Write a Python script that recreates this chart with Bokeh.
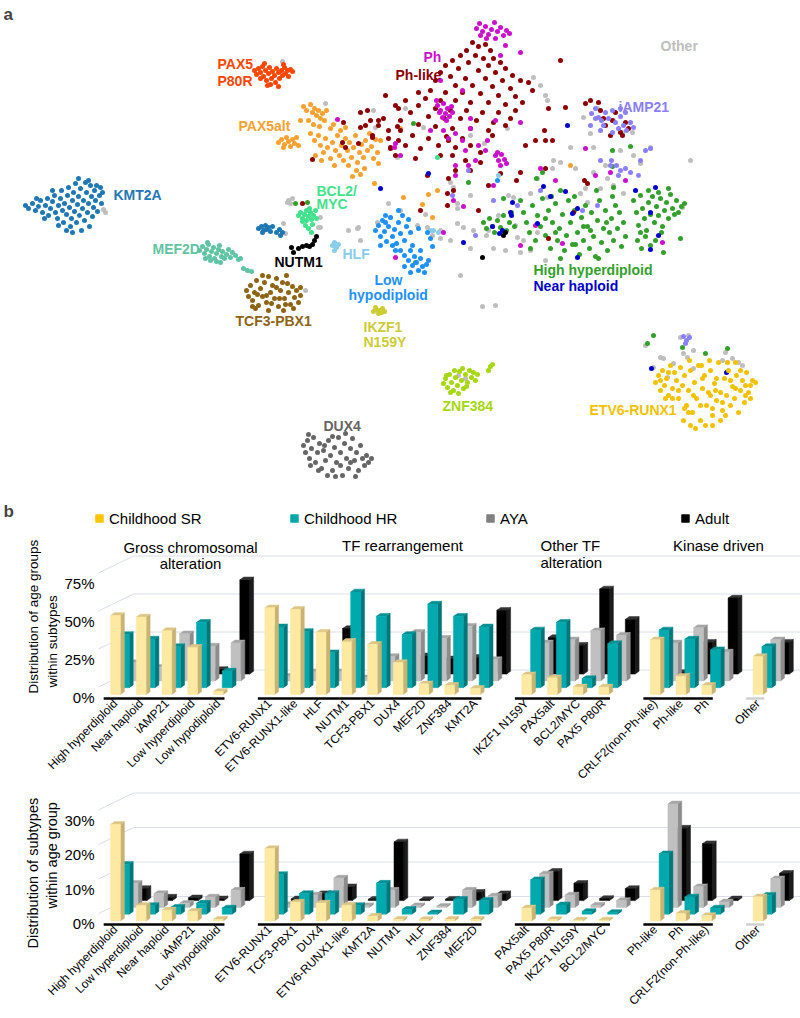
import numpy as np
from bokeh.plotting import figure
from bokeh.models import Range1d, Label, FixedTicker, Legend, LegendItem, Title
from bokeh.embed import file_html
from bokeh.resources import INLINE

FONT = "Liberation Sans"

# ---------------- panel a : t-SNE map (map units) ----------------
other_pts = [(282,61),(325,103),(373,110),(375,127),(288,200),(290,203),(292,198),(287,202),(388,203),(377,222),(357,228),(348,230),(283,223),(320,217),(320,227),(318,227),(285,233),(305,290),(358,227),(390,217),(427,227),(432,235),(457,203),(457,223),(463,227),(440,238),(453,187),(460,275),(495,305),(513,197),(508,195),(530,250),(105,212),(103,209),(405,108),(397,157),(423,127),(450,182),(457,208),(440,230),(450,240),(507,128),(570,147),(553,160),(552,168),(537,178),(530,193),(547,197),(580,193),(585,188),(587,202),(600,188),(613,185),(623,193),(640,163),(650,147),(633,155),(593,147),(590,133),(583,117),(597,108),(613,120),(622,132),(632,132),(682,207),(537,232),(517,237),(488,230),(473,230),(470,248),(533,77),(540,85),(545,95),(547,100),(482,306),(680,337),(688,335),(660,357),(663,358),(683,353),(687,357),(693,350),(722,360),(727,362),(732,358),(738,362),(742,365),(725,352),(673,363),(693,368),(667,377),(653,367),(458,375),(465,378),(645,345),(505,250),(520,252),(493,248),(523,240),(498,215),(486,235),(515,225),(470,195),(545,260),(560,162),(575,168),(593,172),(607,178),(605,165),(620,150),(690,160),(400,210),(425,214),(417,225),(360,240),(484,143),(470,135)]
kmt2a_pts = [(25,205),(28,208),(32,203),(35,210),(38,206),(40,200),(42,212),(45,205),(47,198),(48,215),(50,208),(52,201),(54,195),(55,212),(57,218),(58,205),(60,198),(61,190),(62,210),(63,222),(64,203),(66,214),(67,195),(68,187),(69,207),(70,226),(71,218),(72,200),(73,192),(74,211),(75,183),(76,222),(77,204),(78,196),(79,215),(80,188),(81,230),(82,208),(83,200),(84,220),(85,182),(86,192),(87,212),(88,203),(89,226),(90,185),(91,196),(92,216),(93,207),(94,190),(95,200),(96,185),(97,211),(99,195),(100,187),(101,203),(102,192),(66,230),(58,225),(44,218),(36,198),(52,190),(78,178),(88,180),(72,232),(258,228),(261,226),(263,230),(265,225),(266,229),(268,227),(262,232),(270,231),(276,232),(279,229),(282,232),(280,235),(272,226)]
p80r_pts = [(254,70),(256,74),(258,68),(260,72),(262,66),(263,76),(265,70),(266,80),(268,73),(269,67),(271,78),(272,71),(274,75),(275,82),(276,68),(278,72),(279,78),(281,70),(282,75),(284,67),(285,73),(287,70),(288,76),(290,69),(292,71),(264,63),(270,84),(278,86),(283,64),(260,78),(267,85)]
pax5alt_pts = [(303,106),(306,110),(310,104),(312,112),(314,108),(316,115),(318,110),(320,118),(322,113),(324,120),(313,124),(308,120),(319,126),(326,110),(300,120),(278,142),(281,139),(284,144),(286,137),(288,141),(290,146),(292,139),(294,143),(296,137),(298,145),(283,147),(310,133),(314,140),(318,135),(320,145),(323,152),(325,138),(327,147),(330,158),(332,142),(335,150),(337,135),(339,155),(341,145),(343,160),(345,138),(347,150),(349,142),(351,157),(353,147),(355,135),(357,162),(359,152),(361,144),(363,157),(365,140),(367,150),(369,133),(371,146),(373,158),(375,139),(377,152),(340,130),(330,128),(315,155),(321,160),(334,165),(348,165),(356,170),(360,174),(352,176),(364,168),(378,163),(374,183),(333,124),(345,127),(380,140),(400,128),(403,197),(422,204),(428,194),(437,190),(432,217),(570,165)]
phlike_pts = [(472,42),(478,46),(485,44),(490,50),(466,50),(460,55),(475,55),(483,58),(493,58),(500,62),(452,60),(468,62),(488,65),(505,68),(445,65),(458,68),(478,70),(495,72),(512,75),(440,72),(450,76),(465,78),(485,78),(502,80),(520,80),(435,80),(455,85),(472,85),(492,86),(510,88),(528,82),(430,90),(445,92),(462,92),(480,93),(498,95),(515,96),(532,90),(425,98),(440,100),(455,100),(470,102),(488,102),(505,104),(522,102),(418,105),(435,108),(450,110),(466,110),(482,112),(498,112),(515,110),(548,108),(410,112),(428,116),(444,118),(460,118),(476,120),(493,122),(510,118),(400,120),(418,124),(435,126),(452,128),(470,128),(488,130),(400,130),(412,135),(428,138),(446,136),(462,138),(544,130),(405,145),(420,148),(438,145),(455,147),(470,145),(545,140),(390,148),(395,155),(415,158),(452,155),(465,160),(480,152),(525,145),(535,140),(388,130),(370,120),(360,112),(365,125),(372,135),(378,125),(395,105),(480,162),(470,170),(520,172),(545,168),(516,180),(500,173),(488,185),(447,193),(453,190),(420,210),(447,205),(478,210),(492,135),(505,125),(418,92),(448,140),(398,140),(427,175),(448,178),(455,170),(405,100),(385,95),(440,155),(560,60),(565,107),(552,140),(585,103),(590,100),(598,102),(600,110),(605,125),(612,120),(610,135),(620,132),(628,128),(625,122),(603,118),(615,112),(622,135),(343,122),(360,127),(367,110),(378,120),(383,118),(398,108),(397,126),(388,138),(390,147),(372,137),(358,143),(345,147),(342,142),(312,159),(302,203),(584,180),(587,183),(573,212),(548,238)]
ph_pts = [(476,28),(479,23),(482,31),(485,26),(488,34),(491,29),(494,22),(497,31),(500,27),(503,35),(506,30),(509,33),(486,38),(480,35),(495,38),(437,105),(440,110),(443,103),(445,113),(447,108),(449,116),(451,106),(442,117),(439,112),(446,120),(452,112),(436,100),(495,155),(498,160),(501,154),(504,159),(506,163),(500,165),(497,152),(430,130),(443,130),(448,138),(455,133),(462,140),(470,128),(465,150),(478,145),(485,150),(475,160),(468,165),(455,165),(487,140),(493,185),(455,175),(453,200),(470,118),(520,122),(540,168),(555,180),(585,148),(595,175),(610,172),(625,180),(535,225),(400,155),(395,143),(337,119),(394,147),(520,245),(395,257),(462,90),(505,45),(500,55),(440,80),(520,52),(495,120),(443,232),(463,206),(562,243),(662,242)]
iamp21_pts = [(591,113),(595,108),(598,117),(601,120),(605,112),(603,125),(608,118),(612,110),(615,122),(618,128),(620,116),(623,125),(626,130),(630,122),(633,127),(612,132),(590,125),(600,130),(595,118),(620,108),(625,112),(616,165),(620,170),(625,168),(618,175),(630,172),(638,175),(640,160),(645,150),(650,148),(611,160),(610,165),(540,190),(493,200),(468,170),(452,195),(475,235),(517,205),(683,336),(686,340),(689,337),(685,343),(600,160),(582,210),(597,205)]
hyper_pts = [(483,222),(486,228),(489,218),(492,226),(494,232),(497,220),(500,227),(503,215),(506,230),(509,222),(511,212),(514,226),(520,200),(523,212),(526,222),(529,232),(532,205),(535,240),(537,215),(540,226),(542,198),(545,235),(548,210),(550,248),(552,222),(555,203),(557,240),(559,228),(562,214),(564,250),(566,235),(568,200),(570,222),(572,244),(574,210),(577,232),(579,254),(581,217),(583,240),(585,205),(587,226),(589,248),(591,212),(593,236),(595,256),(597,220),(599,200),(601,242),(603,228),(605,210),(607,250),(609,232),(611,218),(613,240),(615,205),(617,228),(619,212),(621,246),(623,222),(625,236),(612,196),(598,258),(560,258),(575,244),(590,230),(606,222),(545,218),(530,248),(555,232),(583,226),(633,200),(636,212),(638,225),(640,195),(642,208),(644,218),(646,230),(648,202),(650,214),(652,196),(654,222),(656,206),(658,215),(660,198),(662,226),(664,210),(666,202),(668,218),(670,194),(672,208),(674,214),(676,200),(678,212),(681,206),(684,203),(637,240),(641,248),(645,236),(650,245),(655,240),(661,232),(663,252),(680,238),(648,190),(658,192),(668,188),(640,232),(612,150),(630,146),(612,166),(503,198),(551,196),(560,190),(574,196),(613,187),(596,190),(536,178),(295,203),(307,202),(415,262),(653,335),(647,343),(682,347),(705,353),(727,348),(413,123),(468,182),(542,172)]
nearhap_pts = [(655,187),(565,191),(550,196),(512,202),(510,212),(511,215),(577,208),(572,213),(537,223),(502,230),(499,233),(492,226),(650,212),(658,235),(650,249),(577,257),(567,125),(428,173),(543,186),(635,190),(463,242),(651,368),(726,372),(380,188)]
bcl2_pts = [(298,215),(300,212),(302,218),(304,214),(306,210),(306,220),(308,216),(310,212),(311,219),(313,215),(315,210),(316,218),(305,225),(308,228),(311,232),(312,224),(302,221),(309,208),(437,157)]
nutm1_pts = [(293,252),(298,248),(302,246),(306,245),(309,246),(312,244),(314,240),(316,236),(291,247),(505,232),(482,257),(503,235)]
mef2d_pts = [(199,250),(202,246),(204,253),(206,249),(208,244),(209,256),(211,251),(213,247),(214,258),(216,253),(218,249),(219,245),(221,256),(222,251),(224,258),(226,254),(228,249),(230,257),(232,252),(235,255),(238,259),(240,258),(210,260),(216,261),(205,258),(243,268),(247,270),(251,271),(207,242),(220,262)]
tcf3_pts = [(246,290),(248,296),(250,285),(252,300),(254,292),(256,280),(258,305),(260,288),(262,296),(264,282),(266,302),(268,276),(270,292),(272,285),(274,298),(276,278),(278,306),(280,290),(282,282),(284,298),(286,275),(288,292),(290,304),(292,286),(294,297),(296,290),(298,302),(300,295),(262,275),(255,308),(268,310),(283,310),(293,308),(276,287),(266,295),(287,283),(279,298),(257,294),(271,303),(285,304),(300,287),(252,306)]
hlf_pts = [(332,245),(334,242),(336,247),(334,250),(338,244),(335,246),(430,230),(498,175),(433,230),(438,232)]
lowhypo_pts = [(375,230),(378,225),(380,236),(382,220),(384,231),(386,241),(388,226),(390,217),(392,236),(394,229),(396,243),(398,222),(400,233),(402,215),(404,240),(406,226),(408,219),(410,232),(412,245),(385,215),(395,250),(400,250),(404,255),(408,260),(410,250),(412,265),(414,256),(416,262),(418,270),(420,258),(422,266),(424,272),(426,264),(410,272),(404,266),(420,250),(428,260),(432,246),(430,238),(427,232),(380,245),(392,245),(418,228),(398,210),(385,222),(497,180)]
ikzf1_pts = [(373,311),(376,309),(379,310),(382,308),(384,311),(378,313),(375,307),(381,312)]
znf384_pts = [(443,383),(445,378),(447,387),(449,374),(451,382),(453,390),(455,377),(457,385),(459,371),(461,380),(463,388),(465,374),(467,382),(469,370),(471,377),(473,372),(475,380),(477,374),(450,392),(458,393),(446,375),(462,368),(466,386),(454,370),(488,370),(490,366),(492,364)]
dux4_pts = [(303,445),(305,452),(307,440),(309,458),(311,448),(313,437),(315,462),(317,452),(319,443),(321,468),(323,450),(325,460),(328,440),(330,455),(332,470),(334,447),(336,462),(338,437),(340,452),(342,475),(344,443),(346,458),(348,468),(350,448),(352,438),(354,460),(356,452),(358,470),(360,445),(362,458),(364,465),(366,455),(368,462),(371,458),(327,475),(335,476),(318,470),(355,476),(345,433),(332,436),(310,465),(308,434),(350,462),(324,445),(340,465)]
etv6_pts = [(655,382),(658,375),(660,390),(662,370),(664,385),(666,378),(668,395),(670,365),(672,388),(674,372),(676,380),(678,398),(680,367),(682,385),(684,375),(686,405),(688,390),(690,370),(692,412),(694,382),(696,398),(698,365),(700,420),(702,388),(704,375),(706,405),(708,392),(710,370),(712,415),(714,383),(716,400),(718,362),(720,392),(722,410),(724,378),(726,395),(728,370),(730,405),(732,386),(734,398),(736,375),(738,412),(740,390),(742,380),(744,402),(746,372),(748,392),(750,385),(752,380),(755,382),(683,420),(690,425),(695,428),(705,425),(712,425),(720,420),(700,405),(665,398),(672,398),(684,408),(688,412),(710,395),(725,415),(735,388),(745,385),(740,370),(730,380),(715,390),(702,378),(693,395),(678,390),(668,372),(660,380),(716,378),(727,362),(735,362),(745,395),(750,398),(701,365),(709,360),(689,360),(712,408),(722,402)]

subtype_layers = [
    ("Other", "#BEBEBE", other_pts),
    ("KMT2A", "#1F77B4", kmt2a_pts),
    ("PAX5 P80R", "#FF4500", p80r_pts),
    ("PAX5alt", "#F9A12E", pax5alt_pts),
    ("High hyperdiploid", "#33A02C", hyper_pts),
    ("Ph-like", "#8B0000", phlike_pts),
    ("Ph", "#CC11CC", ph_pts),
    ("iAMP21", "#8A7FFF", iamp21_pts),
    ("Near haploid", "#0000CD", nearhap_pts),
    ("BCL2/MYC", "#40E28C", bcl2_pts),
    ("NUTM1", "#000000", nutm1_pts),
    ("MEF2D", "#60C4A2", mef2d_pts),
    ("TCF3-PBX1", "#8E6414", tcf3_pts),
    ("HLF", "#87CEEB", hlf_pts),
    ("Low hypodiploid", "#1E90FF", lowhypo_pts),
    ("IKZF1 N159Y", "#CCCC33", ikzf1_pts),
    ("ZNF384", "#A6D80F", znf384_pts),
    ("DUX4", "#666666", dux4_pts),
    ("ETV6-RUNX1", "#F2C200", etv6_pts),
]

map_labels = [  # text, left x, centre y, colour
    ("PAX5", 217, 63, "#FF4500"), ("P80R", 217, 80, "#FF4500"),
    ("PAX5alt", 238, 125, "#F9A12E"), ("KMT2A", 113, 194, "#1F77B4"),
    ("BCL2/", 316, 190, "#40E28C"), ("MYC", 316, 203, "#40E28C"),
    ("MEF2D", 152, 248, "#60C4A2"), ("NUTM1", 274, 261, "#000000"),
    ("HLF", 342, 253, "#87CEEB"), ("Low", 374, 279, "#1E90FF"),
    ("hypodiploid", 348, 294, "#1E90FF"), ("TCF3-PBX1", 235, 320, "#8E6414"),
    ("IKZF1", 363, 326, "#CCCC33"), ("N159Y", 363, 341, "#CCCC33"),
    ("ZNF384", 442, 405, "#A6D80F"), ("DUX4", 323, 425, "#666666"),
    ("ETV6-RUNX1", 589, 409, "#F2C200"), ("Ph", 423, 56, "#CC11CC"),
    ("Ph-like", 395, 74, "#8B0000"), ("Other", 660, 45, "#BEBEBE"),
    ("iAMP21", 618, 106, "#8A7FFF"), ("High hyperdiploid", 533, 269, "#33A02C"),
    ("Near haploid", 533, 285, "#0000CD"),
]

# ---------------- panel b : bar charts (%) ----------------
series_names = ["Childhood SR", "Childhood HR", "AYA", "Adult"]

top_groups = [
    ["High hyperdiploid", "Near haploid", "iAMP21", "Low hyperdiploid", "Low hypodiploid"],
    ["ETV6-RUNX1", "ETV6-RUNX1-like", "HLF", "NUTM1", "TCF3-PBX1", "DUX4", "MEF2D", "ZNF384", "KMT2A"],
    ["IKZF1 N159Y", "PAX5alt", "BCL2/MYC", "PAX5 P80R"],
    ["CRLF2(non-Ph-like)", "Ph-like", "Ph"],
    ["Other"],
]
top_sr    = [52, 51, 42, 31, 2,  57, 56, 41, 35, 33, 21, 7, 6, 4,  13, 11, 5, 5,  36, 12, 6,  25]
top_hr    = [35, 32, 27, 43, 11, 40, 37, 23, 63, 47, 35, 55, 47, 40, 38, 43, 6, 29, 38, 32, 25, 27]
top_aya   = [12, 9, 31, 23, 25,  3, 6, 6, 2, 16, 32, 28, 36, 14,  25, 27, 33, 30, 25, 35, 19, 27]
top_adult = [1, 8, 0, 3, 62,     0, 1, 30, 0, 4, 12, 10, 11, 42,  24, 19, 56, 36, 1, 21, 50, 21]

bot_groups = [
    ["High hyperdiploid", "Low hyperdiploid", "Near haploid", "iAMP21", "Low hypodiploid"],
    ["ETV6-RUNX1", "TCF3-PBX1", "DUX4", "ETV6-RUNX1-like", "KMT2A", "NUTM1", "HLF", "ZNF384", "MEF2D"],
    ["PAX5alt", "PAX5 P80R", "IKZF1 N159Y", "BCL2/MYC"],
    ["Ph-like", "Ph", "CRLF2(non-Ph-like)"],
    ["Other"],
]
bot_sr    = [28, 4.5, 3.2, 2.8, 0.5,  21, 5.5, 5.2, 4.6, 1.4, 0.5, 0.4, 0.5, 0.5,  3.8, 0.4, 0.3, 0.3,  9, 2.2, 1.6,  7]
bot_hr    = [14.5, 2.5, 2, 3.2, 1.8,  11.5, 6, 6, 2.5, 9, 1.4, 0.4, 4.3, 4,  10, 2.7, 0.8, 0.5,  17.5, 5, 1.8,  5.5]
bot_aya   = [7, 4, 1.2, 3, 5,  0.8, 3.6, 8.5, 0.5, 5, 0.5, 0.3, 5, 3.3,  9.7, 3.6, 0.6, 2,  30, 6, 1.6,  8.3]
bot_adult = [3.5, 1, 0.8, 0.5, 13.5,  0.5, 2, 4, 0.4, 17, 0.3, 0.4, 2.4, 2,  8.5, 5, 0.6, 3.5,  21, 16.5, 0.5,  7.9]

# ---------------- styling ----------------
FRONT = ["#FDE9A1", "#00A9AD", "#C0C0C0", "#000000"]
SIDE = ["#C8B373", "#00777B", "#8C8C8C", "#1C1C1C"]
TOPC = ["#DCC585", "#008F93", "#A6A6A6", "#333333"]
LEGEND_COL = ["#FFC400", "#00A6A8", "#808080", "#000000"]
PITCH = 25.7          # px per slot
BAR_W = 9.8           # px
ROW_DX, ROW_DY = 8.8, 6.8
DEP_DX, DEP_DY = 4.0, 2.8
FRAME_LEFT = 94
MAP_H = 532
TOP_H = 790 - MAP_H


def map_figure():
    p = figure(width=800, height=MAP_H, x_range=Range1d(0, 800), y_range=Range1d(MAP_H, 0),
               output_backend="svg", toolbar_location=None, min_border=0,
               x_axis_location=None, y_axis_location=None)
    p.grid.visible = False
    p.outline_line_color = None
    for name, col, pts in subtype_layers:
        a = np.array(pts, dtype=float)
        p.scatter(a[:, 0], a[:, 1], size=5, fill_color=col, line_color=None)
    for txt, x, y, col in map_labels:
        p.add_layout(Label(x=x, y=y, text=txt, text_color=col, text_font=FONT,
                           text_font_size="14px", text_font_style="bold",
                           text_baseline="middle", text_align="left"))
    p.add_layout(Label(x=3, y=14, text="a", text_font=FONT, text_font_size="17px",
                       text_font_style="bold", text_baseline="alphabetic"))
    p.add_layout(Label(x=3, y=511, text="b", text_font=FONT, text_font_size="17px",
                       text_font_style="bold", text_baseline="alphabetic"))
    # legend of panel b (age groups): swatches at layout positions + legend entries
    swatch_left = [95, 290, 486, 681]
    leg_y = 518
    for name, col, sl in zip(series_names, LEGEND_COL, swatch_left):
        r = p.scatter(x=[sl + 4], y=[leg_y], size=8, marker="square",
                      fill_color=col, line_color=None)
        leg = Legend(items=[LegendItem(label=name, renderers=[r])],
                     location=(sl - 6, MAP_H - (leg_y + 10)),
                     orientation="horizontal",
                     glyph_width=20, glyph_height=20, label_height=20, label_standoff=0,
                     padding=0, margin=0, border_line_color=None, background_fill_alpha=0,
                     label_text_font=FONT, label_text_font_size="15px",
                     label_text_color="#000000")
        p.add_layout(leg)
    return p


def bar_figure(groups, vals, top_page, height, bottom_border, zero_page, ppp, base0,
               yticks, titles, title_size, extra):
    slots, names, ranges = [], [], []
    s = 0
    for g in groups:
        st = s
        for n in g:
            slots.append(s); names.append(n); s += 1
        ranges.append((st, s - 1))
        s += 1
    slots = np.array(slots, dtype=float)

    def dx(px):
        return px / PITCH

    def dy(px):
        return px / ppp

    def X(page_x):
        return (page_x - 115) / PITCH

    def Y(page_y):
        return (zero_page - page_y) / ppp

    frame_bottom = top_page + height - bottom_border
    p = figure(width=800, height=height, output_backend="svg", toolbar_location=None,
               x_range=Range1d(X(FRAME_LEFT), X(800)),
               y_range=Range1d(Y(frame_bottom), Y(top_page)),
               min_border_left=FRAME_LEFT, min_border_right=0, min_border_top=0,
               min_border_bottom=bottom_border)
    p.grid.visible = False
    p.outline_line_color = None

    # back wall grid
    wall = base0 + 3.6 * ROW_DY
    gx0, gx1 = X(98), X(133)
    for v in yticks:
        p.line([gx1, X(800)], [v + dy(wall), v + dy(wall)], line_color="#D9DEEA", line_width=1)
        p.line([gx0, gx1], [v + dy(wall - 17), v + dy(wall)], line_color="#D9DEEA", line_width=1)

    # 3-D bars, back row first
    for k in (3, 2, 1, 0):
        v = np.array(vals[k], dtype=float)
        left = slots - dx(BAR_W / 2) + dx(k * ROW_DX)
        right = left + dx(BAR_W)
        bot = np.full_like(v, dy(base0 + k * ROW_DY))
        top = bot + v
        ddx, ddy = dx(DEP_DX), dy(DEP_DY)
        side_x = [[r, r + ddx, r + ddx, r] for r in right]
        side_y = [[b, b + ddy, t + ddy, t] for b, t in zip(bot, top)]
        top_x = [[l, r, r + ddx, l + ddx] for l, r in zip(left, right)]
        top_y = [[t, t, t + ddy, t + ddy] for t in top]
        p.patches(side_x, side_y, fill_color=SIDE[k], line_color=SIDE[k], line_width=0.5)
        p.patches(top_x, top_y, fill_color=TOPC[k], line_color=TOPC[k], line_width=0.5)
        p.quad(left=left, right=right, bottom=bot, top=top, fill_color=FRONT[k],
               line_color=FRONT[k], line_width=0.5)

    # group floor lines
    for i, (a, b) in enumerate(ranges):
        col = "#D0D0D0" if i == len(ranges) - 1 else "#000000"
        p.line([a - 0.46, b + 0.24], [dy(-1), dy(-1)], line_color=col, line_width=2.6)

    # axes
    p.xaxis.ticker = FixedTicker(ticks=list(slots), minor_ticks=[])
    p.xaxis.major_label_overrides = {int(s_): n for s_, n in zip(slots, names)}
    p.xaxis.major_label_orientation = np.pi / 4
    p.xaxis.major_label_text_font = FONT
    p.xaxis.major_label_text_font_size = "12px"
    p.xaxis.major_label_text_color = "#000000"
    p.xaxis.major_label_standoff = 1
    p.xaxis.major_tick_in = 0
    p.xaxis.major_tick_out = 0
    p.xaxis.axis_line_color = None
    p.xaxis.major_tick_line_color = None
    p.xaxis.minor_tick_line_color = None

    p.yaxis.ticker = FixedTicker(ticks=yticks, minor_ticks=[])
    p.yaxis.major_label_overrides = {t: f"{t}%" for t in yticks}
    p.yaxis.major_label_text_font = FONT
    p.yaxis.major_label_text_font_size = "15px"
    p.yaxis.major_label_text_color = "#000000"
    p.yaxis.major_label_standoff = 0
    p.yaxis.major_tick_in = 0
    p.yaxis.major_tick_out = 0
    p.yaxis.axis_line_color = None
    p.yaxis.major_tick_line_color = None
    p.yaxis.minor_tick_line_color = None

    # y title: two lines, inner line first; text starts `offset` px above the frame bottom
    for txt, standoff, offset in titles:
        p.add_layout(Title(text=txt, align="left", offset=offset, standoff=standoff,
                           text_font=FONT, text_font_size=title_size,
                           text_font_style="normal", text_color="#000000"), "left")
    extra(p, X, Y)
    return p


def top_extra(p, X, Y):
    for txt, cx, cy, al in [("Gross chromosomal", 190, 547, "center"), ("alteration", 190, 563, "center"),
                            ("TF rearrangement", 402, 545, "center"),
                            ("Other TF", 540, 545, "left"), ("alteration", 540, 562, "left"),
                            ("Kinase driven", 718, 545, "center")]:
        p.add_layout(Label(x=X(cx), y=Y(cy), text=txt, text_font=FONT, text_font_size="15px",
                           text_align=al, text_baseline="middle", text_color="#000000"))


def no_extra(p, X, Y):
    pass


pa = map_figure()
pb1 = bar_figure(top_groups, [top_sr, top_hr, top_aya, top_adult], top_page=MAP_H, height=TOP_H,
                 bottom_border=90, zero_page=697, ppp=1.52, base0=3.0, yticks=[0, 25, 50, 75],
                 titles=[("within subtypes", 4, 13), ("Distribution of age groups", 0, 7)],
                 title_size="13.5px", extra=top_extra)
pb2 = bar_figure(bot_groups, [bot_sr, bot_hr, bot_aya, bot_adult], top_page=MAP_H + TOP_H,
                 height=1018 - MAP_H - TOP_H, bottom_border=92, zero_page=923, ppp=3.45, base0=2.5,
                 yticks=[0, 10, 20, 30],
                 titles=[("within age group", 3, 18), ("Distribution of subtypes", 0, -22)],
                 title_size="14.5px", extra=no_extra)

open("out.html", "w").write(file_html([pa, pb1, pb2], INLINE))
